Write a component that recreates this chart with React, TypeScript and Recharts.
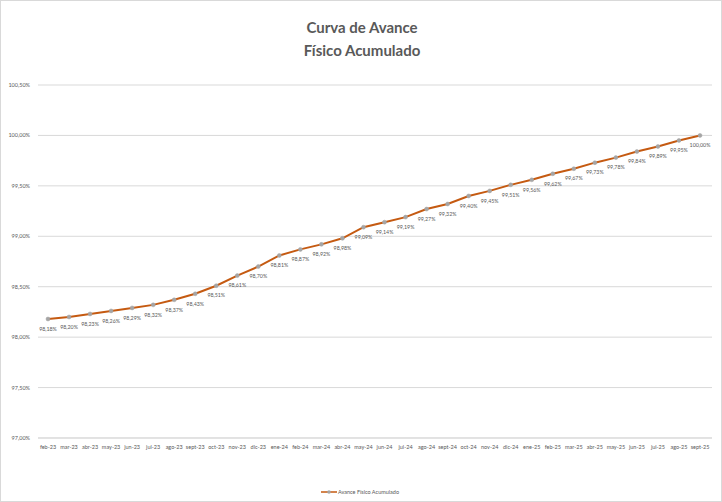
import React from 'react'
import { CartesianGrid, LabelList, Legend, Line, LineChart, XAxis, YAxis } from 'recharts'

const months = [
	'feb-23', 'mar-23', 'abr-23', 'may-23', 'jun-23', 'jul-23', 'ago-23', 'sept-23',
	'oct-23', 'nov-23', 'dic-23', 'ene-24', 'feb-24', 'mar-24', 'abr-24', 'may-24',
	'jun-24', 'jul-24', 'ago-24', 'sept-24', 'oct-24', 'nov-24', 'dic-24', 'ene-25',
	'feb-25', 'mar-25', 'abr-25', 'may-25', 'jun-25', 'jul-25', 'ago-25', 'sept-25',
]

const avance = [
	98.18, 98.2, 98.23, 98.26, 98.29, 98.32, 98.37, 98.43,
	98.51, 98.61, 98.7, 98.81, 98.87, 98.92, 98.98, 99.09,
	99.14, 99.19, 99.27, 99.32, 99.4, 99.45, 99.51, 99.56,
	99.62, 99.67, 99.73, 99.78, 99.84, 99.89, 99.95, 100.0,
]

const yTicks = [97, 97.5, 98, 98.5, 99, 99.5, 100, 100.5]

const data = months.map((m, i) => ({ mes: m, avance: avance[i] }))

const pct = (v: number) => v.toFixed(2).replace('.', ',') + '%'

const FONT = 'Lato, "Open Sans", sans-serif'
const LINE_COLOR = '#c55a11'
const MARKER = '#a5a5a5'

function LegendContent() {
	return (
		<div style={{ display: 'flex', justifyContent: 'center', alignItems: 'center', fontFamily: FONT, fontSize: 5.5, color: '#595959' }}>
			<svg width={16} height={6}>
				<line x1={0} y1={3} x2={16} y2={3} stroke={LINE_COLOR} strokeWidth={1.5} />
				<circle cx={8} cy={3} r={1.8} fill={MARKER} />
			</svg>
			<span style={{ marginLeft: 1 }}>Avance Físico Acumulado</span>
		</div>
	)
}

export default function App() {
	return (
		<div style={{ position: 'fixed', left: 0, top: 0, width: 722, height: 502, background: '#fff', boxSizing: 'border-box', border: '1px solid #d9d9d9' }}>
			<div style={{ position: 'absolute', top: 15, left: 0, width: 722, textAlign: 'center', fontFamily: FONT, fontWeight: 700, fontSize: 15, lineHeight: '23px', color: '#595959' }}>
				Curva de Avance
				<br />
				Físico Acumulado
			</div>
			<div style={{ position: 'absolute', left: -1, top: -1 }}>
				<LineChart width={722} height={502} data={data} margin={{ top: 85, right: 10, bottom: 28, left: 8 }}>
					<CartesianGrid vertical={false} stroke='#d9d9d9' strokeWidth={1} />
					<XAxis
						dataKey='mes'
						interval={0}
						padding={{ left: 10, right: 12 }}
						tickLine={false}
						axisLine={{ stroke: '#d9d9d9' }}
						tick={{ fontSize: 5.5, fill: '#595959', fontFamily: FONT }}
						height={20}
						tickMargin={1}
					/>
					<YAxis
						domain={[97, 100.5]}
						ticks={yTicks}
						tickFormatter={pct}
						axisLine={false}
						tickLine={false}
						width={30}
						tick={{ fontSize: 5.5, fill: '#595959', fontFamily: FONT }}
					/>
					<Legend verticalAlign='bottom' height={16} wrapperStyle={{ bottom: 'auto', top: 489 }} content={<LegendContent />} />
					<Line
						type='linear'
						dataKey='avance'
						stroke={LINE_COLOR}
						strokeWidth={2}
						dot={{ r: 2, fill: MARKER, stroke: MARKER, strokeWidth: 0.5 }}
						isAnimationActive={false}
					>
						<LabelList dataKey='avance' position='bottom' offset={8} formatter={(v: any) => pct(Number(v))} style={{ fontSize: 5.3, fill: '#595959', fontFamily: FONT }} />
					</Line>
				</LineChart>
			</div>
		</div>
	)
}
